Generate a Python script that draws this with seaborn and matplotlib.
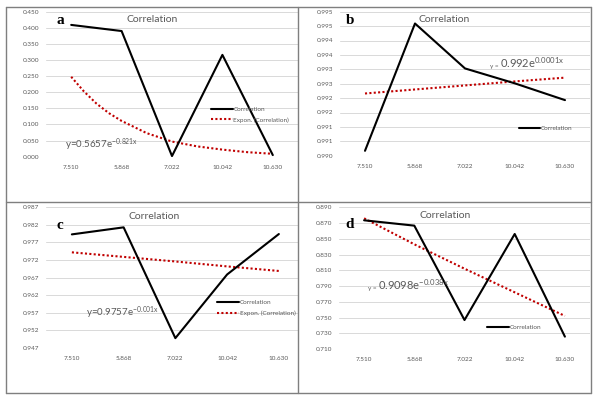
import numpy as np
import matplotlib
matplotlib.use("Agg")
import matplotlib.pyplot as plt
import seaborn as sns

categories = ["7.510", "5.868", "7.022", "10.042", "10.630"]

corr_a = [0.409, 0.390, 0.002, 0.316, 0.005]
corr_b = [0.99017, 0.99459, 0.99303, 0.99251, 0.99193]
corr_c = [0.9793, 0.9813, 0.9498, 0.9679, 0.9794]
corr_d = [0.8735, 0.8667, 0.7468, 0.8561, 0.7257]

# exponential trend lines
trend_a_pos = [0, 0.25, 0.5, 0.75, 1, 1.5, 2, 2.5, 3, 3.5, 4]
trend_a = [0.248, 0.203, 0.165, 0.135, 0.111, 0.073, 0.047, 0.032, 0.022, 0.014, 0.009]
trend_b = [0.99216, 0.99230, 0.99244, 0.99258, 0.99271]
trend_c = [0.9742, 0.9729, 0.9716, 0.9702, 0.9689]
trend_d = [0.876, 0.843, 0.812, 0.782, 0.752]

yticks_a = [0.000, 0.050, 0.100, 0.150, 0.200, 0.250, 0.300, 0.350, 0.400, 0.450]
ylabels_a = ["0.000", "0.050", "0.100", "0.150", "0.200", "0.250", "0.300", "0.350", "0.400", "0.450"]
yticks_b = [0.9900, 0.9905, 0.9910, 0.9915, 0.9920, 0.9925, 0.9930, 0.9935, 0.9940, 0.9945, 0.9950]
ylabels_b = ["0.990", "0.991", "0.991", "0.992", "0.992", "0.993", "0.993", "0.994", "0.994", "0.995", "0.995"]
yticks_c = [0.947, 0.952, 0.957, 0.962, 0.967, 0.972, 0.977, 0.982, 0.987]
ylabels_c = ["0.947", "0.952", "0.957", "0.962", "0.967", "0.972", "0.977", "0.982", "0.987"]
yticks_d = [0.710, 0.730, 0.750, 0.770, 0.790, 0.810, 0.830, 0.850, 0.870, 0.890]
ylabels_d = ["0.710", "0.730", "0.750", "0.770", "0.790", "0.810", "0.830", "0.850", "0.870", "0.890"]

W, H = 596, 397
GRAY = "#595959"
RED = "#c00000"

sns.set_style("white")
plt.rcParams["font.family"] = ["Lato", "DejaVu Sans"]
plt.rcParams["mathtext.default"] = "regular"

fig = plt.figure(figsize=(W / 100, H / 100), dpi=100)


def px(x, y):
    return x / W, 1 - y / H


def make_axes(left, right, top, bottom):
    return fig.add_axes([left / W, 1 - bottom / H, (right - left) / W, (bottom - top) / H])


panels = [
    # axes box, xlim right, data, trend x, trend, ticks, labels, legend anchor, show trend legend
    ((46, 298, 11.7, 156.7), 4.5, corr_a, trend_a_pos, trend_a, yticks_a, ylabels_a, (0.655, 0.29), True),
    ((340, 590, 11.7, 155.7), 4.5, corr_b, list(range(5)), trend_b, yticks_b, ylabels_b, (0.715, 0.192), False),
    ((46, 298, 207.3, 348.0), 4.37, corr_c, list(range(5)), trend_c, yticks_c, ylabels_c, (0.68, 0.285), True),
    ((339, 590, 207.3, 349.0), 4.5, corr_d, list(range(5)), trend_d, yticks_d, ylabels_d, (0.59, 0.155), False),
]

for box, xr, corr, tx, trend, ticks, labels, leg_anchor, show_trend in panels:
    ax = make_axes(*box)
    ax.set_ylim(ticks[0], ticks[-1])
    ax.set_xlim(-0.5, xr)
    ax.set_yticks(ticks)
    ax.set_yticklabels(labels)
    ax.set_xticks(range(len(categories)))
    ax.set_xticklabels(categories)
    ax.yaxis.grid(True, color="#d9d9d9", linewidth=0.7)
    ax.set_axisbelow(True)
    for s in ax.spines.values():
        s.set_visible(False)
    ax.tick_params(axis="both", length=0, labelsize=4.6, labelcolor=GRAY)
    ax.tick_params(axis="y", pad=5)
    ax.tick_params(axis="x", pad=6)

    sns.lineplot(x=tx, y=trend, ax=ax, color=RED, linewidth=1.5,
                 linestyle=(0, (1, 1.1)), dash_capstyle="butt",
                 label="Expon. (Correlation)" if show_trend else "_nolegend_")
    sns.lineplot(x=list(range(5)), y=corr, ax=ax, color="black", linewidth=1.5,
                 label="Correlation")
    ax.set_xlabel("")
    ax.set_ylabel("")

    h, l = ax.get_legend_handles_labels()
    order = [l.index("Correlation")] + ([l.index("Expon. (Correlation)")] if show_trend else [])
    leg = ax.legend([h[i] for i in order], [l[i] for i in order], loc="center left",
                    bbox_to_anchor=leg_anchor, frameon=False, fontsize=4.6,
                    handlelength=3.4, handletextpad=0.1, labelspacing=0.75,
                    borderpad=0, borderaxespad=0)
    for t in leg.get_texts():
        t.set_color(GRAY)

# titles
for (x, y) in [(152, 19), (444, 20), (154, 216), (445, 215)]:
    fig.text(*px(x, y), "Correlation", ha="center", va="center", fontsize=7.5, color=GRAY)

# panel letters
for (x, y), letter in zip([(60, 21), (350, 20), (60, 226), (350, 224)], "abcd"):
    fig.text(*px(x, y), letter, ha="center", va="center", fontsize=11,
             fontweight="bold", family="Liberation Serif", color="black")

# trend equations
fig.text(*px(65, 148), r"y=0.5657e$^{-0.821x}$", ha="left", va="baseline", fontsize=7, color=GRAY)
fig.text(*px(86, 316), r"y=0.9757e$^{-0.001x}$", ha="left", va="baseline", fontsize=7, color=GRAY)
fig.text(*px(500, 68), "y = ", ha="right", va="baseline", fontsize=4.6, color=GRAY)
fig.text(*px(500, 68), r"0.992e$^{0.0001x}$", ha="left", va="baseline", fontsize=8, color=GRAY)
fig.text(*px(378, 290), "y = ", ha="right", va="baseline", fontsize=4.6, color=GRAY)
fig.text(*px(378, 290), r"0.9098e$^{-0.038x}$", ha="left", va="baseline", fontsize=8, color=GRAY)

# surrounding table borders
border = dict(color="#7f7f7f", linewidth=1.0, transform=fig.transFigure)
for xs, ys in [((6, 591), (7, 7)), ((6, 591), (393, 393)), ((6, 6), (7, 393)),
               ((591, 591), (7, 393)), ((298, 298), (7, 393)), ((6, 591), (202, 202))]:
    fig.add_artist(plt.Line2D([xs[0] / W, xs[1] / W], [1 - ys[0] / H, 1 - ys[1] / H], **border))

fig.savefig("out.png", dpi=100)
